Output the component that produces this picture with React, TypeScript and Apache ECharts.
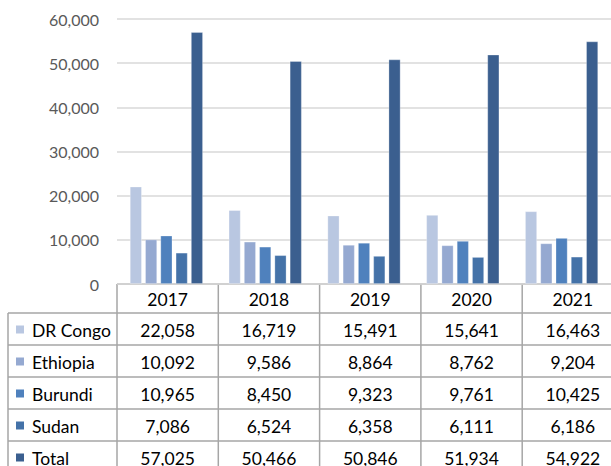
import React, { useEffect, useRef } from "react";
import * as echarts from "echarts";

const years = ["2017", "2018", "2019", "2020", "2021"];
const seriesNames = ["DR Congo", "Ethiopia", "Burundi", "Sudan", "Total"];
const drCongo = [22058, 16719, 15491, 15641, 16463];
const ethiopia = [10092, 9586, 8864, 8762, 9204];
const burundi = [10965, 8450, 9323, 9761, 10425];
const sudan = [7086, 6524, 6358, 6111, 6186];
const total = [57025, 50466, 50846, 51934, 54922];
const yTicks = [0, 10000, 20000, 30000, 40000, 50000, 60000];

const seriesData = [drCongo, ethiopia, burundi, sudan, total];
const colors = ["#B9C7E1", "#95A9D1", "#4F81BD", "#4472A8", "#3B5F8F"];

const fmt = (v: number) => v.toLocaleString("en-US");

export default function App() {
  const ref = useRef<HTMLDivElement>(null);
  useEffect(() => {
    if (!ref.current) return;
    const chart = echarts.init(ref.current, null, { renderer: "svg" });
    const gridLeft = 117;
    const gridTop = 19;
    const gridH = 265;
    const colW = 101.3;
    const gridW = colW * years.length;
    const tableLeft = 8;
    const headerBottom = 313;
    const rowH = 32;
    const lineColor = "#A6A6A6";
    const font = "Lato, 'Liberation Sans', sans-serif";
    const bottom = gridTop + gridH;
    const right = gridLeft + gridW;

    const g: any[] = [];
    g.push({ type: "line", shape: { x1: gridLeft, y1: bottom, x2: right, y2: bottom }, style: { stroke: lineColor, lineWidth: 1.5 } });
    for (let r = 0; r <= seriesNames.length; r++) {
      const y = headerBottom + r * rowH;
      g.push({ type: "line", shape: { x1: tableLeft, y1: y, x2: right, y2: y }, style: { stroke: lineColor, lineWidth: 1.5 } });
    }
    g.push({ type: "line", shape: { x1: tableLeft, y1: headerBottom, x2: tableLeft, y2: 470 }, style: { stroke: lineColor, lineWidth: 1.5 } });
    for (let c = 0; c <= years.length; c++) {
      const x = gridLeft + c * colW;
      g.push({ type: "line", shape: { x1: x, y1: bottom, x2: x, y2: 470 }, style: { stroke: lineColor, lineWidth: 1.5 } });
    }
    years.forEach((yr, c) => {
      g.push({
        type: "text",
        x: gridLeft + (c + 0.5) * colW,
        y: (bottom + headerBottom) / 2 + 1,
        style: { text: yr, fill: "#000", font: `17.5px ${font}`, textAlign: "center", textVerticalAlign: "middle" },
      });
    });
    seriesNames.forEach((name, r) => {
      const cy = headerBottom + (r + 0.5) * rowH + 1;
      g.push({ type: "rect", shape: { x: 16, y: cy - 4.5, width: 8, height: 8 }, style: { fill: colors[r] } });
      g.push({
        type: "text",
        x: 32,
        y: cy,
        style: { text: name, fill: "#000", font: `17.5px ${font}`, textAlign: "left", textVerticalAlign: "middle" },
      });
      seriesData[r].forEach((v, c) => {
        g.push({
          type: "text",
          x: gridLeft + (c + 0.5) * colW,
          y: cy,
          style: { text: fmt(v), fill: "#000", font: `17.5px ${font}`, textAlign: "center", textVerticalAlign: "middle" },
        });
      });
    });

    chart.setOption({
      animation: false,
      grid: { left: gridLeft, top: gridTop, width: gridW, height: gridH },
      xAxis: {
        type: "category",
        data: years,
        axisLine: { show: false },
        axisTick: { show: false },
        axisLabel: { show: false },
      },
      yAxis: {
        type: "value",
        min: 0,
        max: yTicks[yTicks.length - 1],
        interval: yTicks[1] - yTicks[0],
        axisLine: { show: false },
        axisTick: { show: false },
        axisLabel: {
          formatter: (v: number) => fmt(v),
          color: "#595959",
          fontSize: 16,
          fontFamily: font,
          margin: 18,
        },
        splitLine: { lineStyle: { color: "#D9D9D9", width: 1.5 } },
      },
      series: seriesNames.map((name, i) => ({
        name,
        type: "bar",
        data: seriesData[i],
        barGap: "27%",
        barCategoryGap: "26%",
        itemStyle: { color: colors[i], borderColor: "rgba(255,255,255,0.35)", borderWidth: 0.8 },
      })),
      graphic: g,
    });
    return () => chart.dispose();
  }, []);
  return (
    <div
      ref={ref}
      style={{ position: "fixed", left: 0, top: 0, width: 611, height: 466, overflow: "hidden", background: "#fff" }}
    />
  );
}
